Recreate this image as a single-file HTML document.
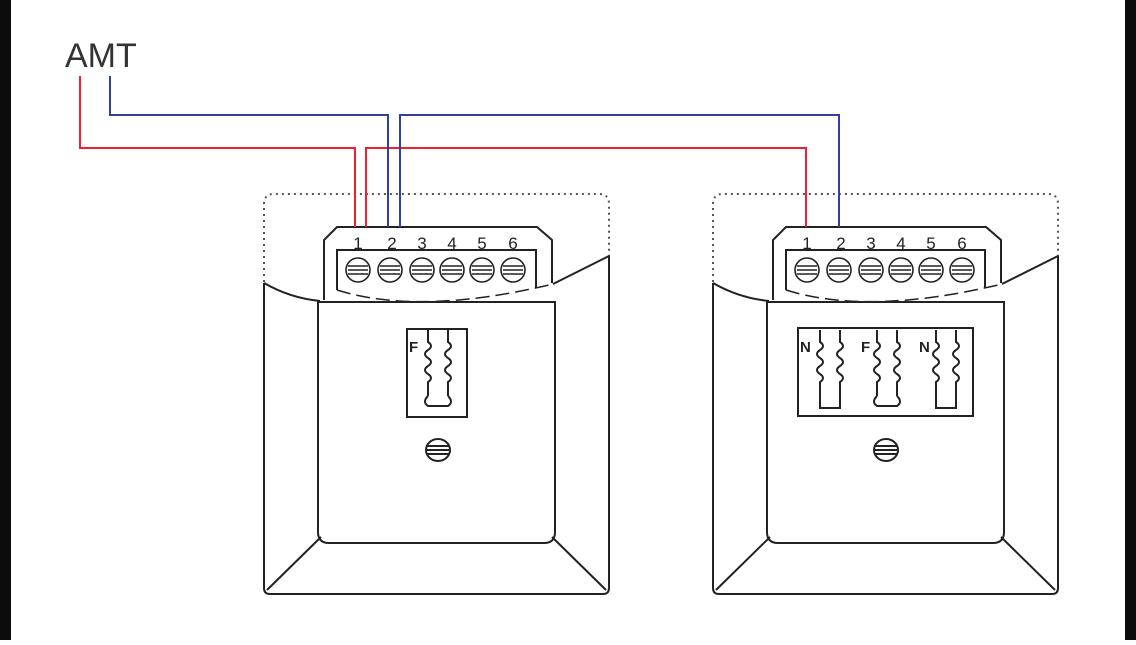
<!DOCTYPE html>
<html><head><style>
html,body{margin:0;padding:0;background:#fff;}
body{width:1136px;height:640px;overflow:hidden;position:relative;}
</style></head><body>
<svg width="1136" height="640" viewBox="0 0 1136 640" xmlns="http://www.w3.org/2000/svg">
<rect width="1136" height="640" fill="#fff"/>
<rect x="0" y="0" width="11" height="640" fill="#0c0c0c"/>
<rect x="1125" y="0" width="11" height="640" fill="#0c0c0c"/>
<text x="65" y="67" font-family="Liberation Sans, sans-serif" font-size="34" fill="#333">AMT</text>
<defs>
<g id="box" fill="none" stroke="#222" stroke-width="2">
 <path d="M264,282 V204 Q264,194 274,194 H599 Q609,194 609,204 V256" stroke="#555" stroke-dasharray="2,4"/>
 <path d="M264,283 Q290,298 320,301" />
 <path d="M553,284 L609,256"/>
 <path d="M337,290 Q420,316 553,284" stroke-dasharray="14,6" stroke-width="1.5"/>
 <path d="M264,283 V588 Q264,594 270,594 H603 Q609,594 609,588 V256"/>
 <path d="M318,302 V532 Q318,543 329,543 H544 Q555,543 555,532 V302 Z"/>
 <path d="M321,537 L267,590 M552,537 L606,590"/>
 <path d="M324,300 V240 L337,227 H537 L552,240 V283"/>
 <path d="M337,290 V250 H536 V288"/>
 <g stroke-width="1.6">
  <ellipse cx="358" cy="270" rx="12" ry="12"/><ellipse cx="390" cy="270" rx="12" ry="12"/>
  <ellipse cx="422" cy="270" rx="12" ry="12"/><ellipse cx="452" cy="270" rx="12" ry="12"/>
  <ellipse cx="482" cy="270" rx="12" ry="12"/><ellipse cx="513" cy="270" rx="12" ry="12"/>
  <path d="M348,266 H368 M348,270 H368 M348,274 H368 M380,266 H400 M380,270 H400 M380,274 H400 M412,266 H432 M412,270 H432 M412,274 H432 M442,266 H462 M442,270 H462 M442,274 H462 M472,266 H492 M472,270 H492 M472,274 H492 M503,266 H523 M503,270 H523 M503,274 H523"/>
 </g>
 <g fill="#222" stroke="none" font-family="Liberation Sans, sans-serif" font-size="17" text-anchor="middle">
  <text x="358" y="249">1</text><text x="392" y="249">2</text><text x="422" y="249">3</text>
  <text x="452" y="249">4</text><text x="482" y="249">5</text><text x="513" y="249">6</text>
 </g>
</g>
<path id="spr" fill="none" stroke="#222" stroke-width="2" d="M0,0 V12 q6,4 0,8 q-6,4 0,8 q6,4 0,8 q-6,4 0,8 q6,4 0,8 V66"/>
</defs>
<use href="#box"/>
<use href="#box" transform="translate(449,0)"/>
<g fill="none" stroke="#222" stroke-width="2">
 <rect x="407" y="329" width="60" height="88"/>
 <use href="#spr" x="428" y="330"/><use href="#spr" x="448" y="330"/>
 <path d="M428,396 q-6,6 0,10 H448 q6,-4 0,-10"/>
 <ellipse cx="438" cy="450" rx="12" ry="11"/><path d="M427,446 H449 M427,450 H449 M427,454 H449"/>
 <rect x="798" y="328" width="175" height="88"/>
 <use href="#spr" x="820" y="330"/><use href="#spr" x="840" y="330"/><path d="M820,396 V408 H840 V396"/>
 <use href="#spr" x="877" y="330"/><use href="#spr" x="897" y="330"/><path d="M877,396 q-6,6 0,10 H897 q6,-4 0,-10"/>
 <use href="#spr" x="936" y="330"/><use href="#spr" x="956" y="330"/><path d="M936,396 V408 H956 V396"/>
 <ellipse cx="886" cy="450" rx="12" ry="11"/><path d="M875,446 H897 M875,450 H897 M875,454 H897"/>
</g>
<g fill="#222" font-family="Liberation Sans, sans-serif" font-size="15" font-weight="bold">
 <text x="409" y="352">F</text><text x="800" y="352">N</text><text x="861" y="352">F</text><text x="919" y="352">N</text>
</g>
<g fill="none" stroke-width="2">
 <path d="M80,76 V148 H355 V227" stroke="#f02030"/>
 <path d="M366,227 V148 H806 V227" stroke="#f02030"/>
 <path d="M110,76 V115 H388 V227" stroke="#3040a0"/>
 <path d="M400,227 V115 H839 V227" stroke="#3040a0"/>
</g>
</svg>
</body></html>
